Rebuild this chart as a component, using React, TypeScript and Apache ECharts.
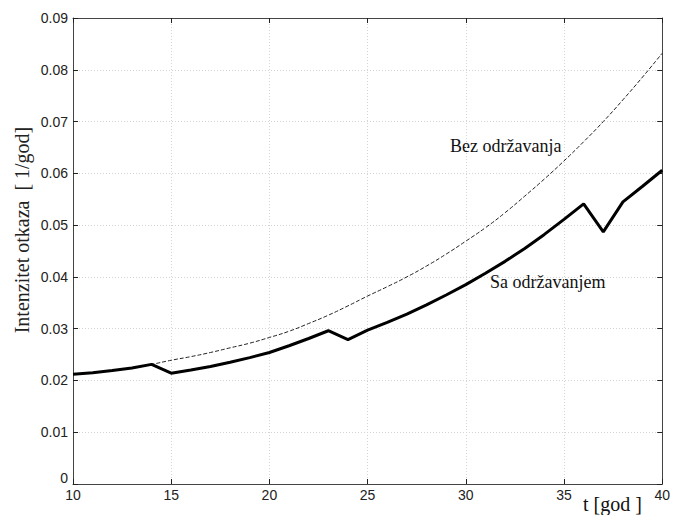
import React, { useEffect, useRef } from "react";
import * as echarts from "echarts";

const years = [10, 11, 12, 13, 14, 15, 16, 17, 18, 19, 20, 21, 22, 23, 24, 25, 26, 27, 28, 29, 30, 31, 32, 33, 34, 35, 36, 37, 38, 39, 40];
const bezOdrzavanja = [0.0212, 0.0215, 0.0219, 0.0224, 0.0231, 0.0239, 0.0246, 0.0254, 0.0263, 0.0272, 0.0283, 0.0295, 0.0310, 0.0326, 0.0344, 0.0363, 0.0381, 0.0400, 0.0421, 0.0444, 0.0469, 0.0495, 0.0524, 0.0556, 0.0589, 0.0624, 0.0661, 0.0700, 0.0742, 0.0786, 0.0832];
const saOdrzavanjem = [0.0212, 0.0215, 0.0219, 0.0224, 0.0231, 0.0214, 0.0220, 0.0227, 0.0235, 0.0244, 0.0254, 0.0267, 0.0281, 0.0296, 0.0279, 0.0297, 0.0312, 0.0328, 0.0346, 0.0365, 0.0385, 0.0407, 0.0430, 0.0455, 0.0482, 0.0511, 0.0541, 0.0487, 0.0545, 0.0575, 0.0606];
const yLabel = "Intenzitet otkaza  [ 1/god]";
const xLabel = "t [god ]";
const bezLabel = "Bez održavanja";
const saLabel = "Sa održavanjem";

export default function App() {
  const ref = useRef<HTMLDivElement>(null);
  useEffect(() => {
    document.body.style.margin = "0";
    const chart = echarts.init(ref.current!, null, { renderer: "svg" });
    const serif = "'Liberation Serif', 'DejaVu Serif', serif";
    const sans = "'Liberation Sans', Arial, sans-serif";
    const axisLineColor = "#444";
    const baseX = {
      type: "value" as const,
      min: 10,
      max: 40,
      interval: 5,
      axisLine: { show: true, onZero: false, lineStyle: { color: axisLineColor, width: 1 } },
      axisTick: { show: true, inside: true, length: 5, lineStyle: { color: "#222" } },
      splitLine: { show: false },
    };
    const baseY = {
      type: "value" as const,
      min: 0,
      max: 0.09,
      interval: 0.01,
      axisLine: { show: true, onZero: false, lineStyle: { color: axisLineColor, width: 1 } },
      axisTick: { show: true, inside: true, length: 5, lineStyle: { color: "#222" } },
      splitLine: { show: false },
    };
    chart.setOption({
      animation: false,
      backgroundColor: "#fff",
      grid: { left: 73, right: 10, top: 18, bottom: 31 },
      xAxis: [
        {
          ...baseX,
          position: "bottom",
          axisLabel: { color: "#222", fontFamily: sans, fontSize: 14, margin: 4 },
          splitLine: { show: true, lineStyle: { color: "#d4d4d4", type: [1, 2], width: 1 } },
        },
        { ...baseX, position: "top", axisLabel: { show: false } },
      ],
      yAxis: [
        {
          ...baseY,
          position: "left",
          axisLabel: {
            color: "#222",
            fontFamily: sans,
            fontSize: 14,
            margin: 5,
            formatter: (v: number) => (v === 0 ? "{z|0}" : v.toFixed(2)),
            rich: { z: { color: "#222", fontFamily: sans, fontSize: 14, padding: [0, 0, 12, 0] } },
          },
          splitLine: { show: true, lineStyle: { color: "#d4d4d4", type: [1, 2], width: 1 } },
        },
        { ...baseY, position: "right", axisLabel: { show: false } },
      ],
      series: [
        {
          type: "line",
          name: bezLabel,
          data: years.map((t, i) => [t, bezOdrzavanja[i]]),
          showSymbol: false,
          symbol: "none",
          smooth: true,
          lineStyle: { color: "#222", width: 1, type: [4, 2] },
          z: 2,
        },
        {
          type: "line",
          name: saLabel,
          data: years.map((t, i) => [t, saOdrzavanjem[i]]),
          showSymbol: false,
          symbol: "none",
          lineStyle: { color: "#000", width: 3 },
          z: 3,
        },
      ],
      graphic: [
        {
          type: "text",
          x: 22,
          y: 230,
          rotation: Math.PI / 2,
          style: {
            text: yLabel,
            fontFamily: serif,
            fontSize: 20,
            fill: "#222",
            align: "center",
            verticalAlign: "middle",
          },
        },
        {
          type: "text",
          left: 450,
          top: 137,
          style: { text: bezLabel, fontFamily: serif, fontSize: 18, fill: "#111" },
        },
        {
          type: "text",
          left: 490,
          top: 273,
          style: { text: saLabel, fontFamily: serif, fontSize: 18, fill: "#111" },
        },
        {
          type: "text",
          left: 583,
          top: 494,
          style: { text: xLabel, fontFamily: serif, fontSize: 20, fill: "#111" },
        },
      ],
    });
    return () => chart.dispose();
  }, []);
  return <div ref={ref} style={{ width: 673, height: 515 }} />;
}
